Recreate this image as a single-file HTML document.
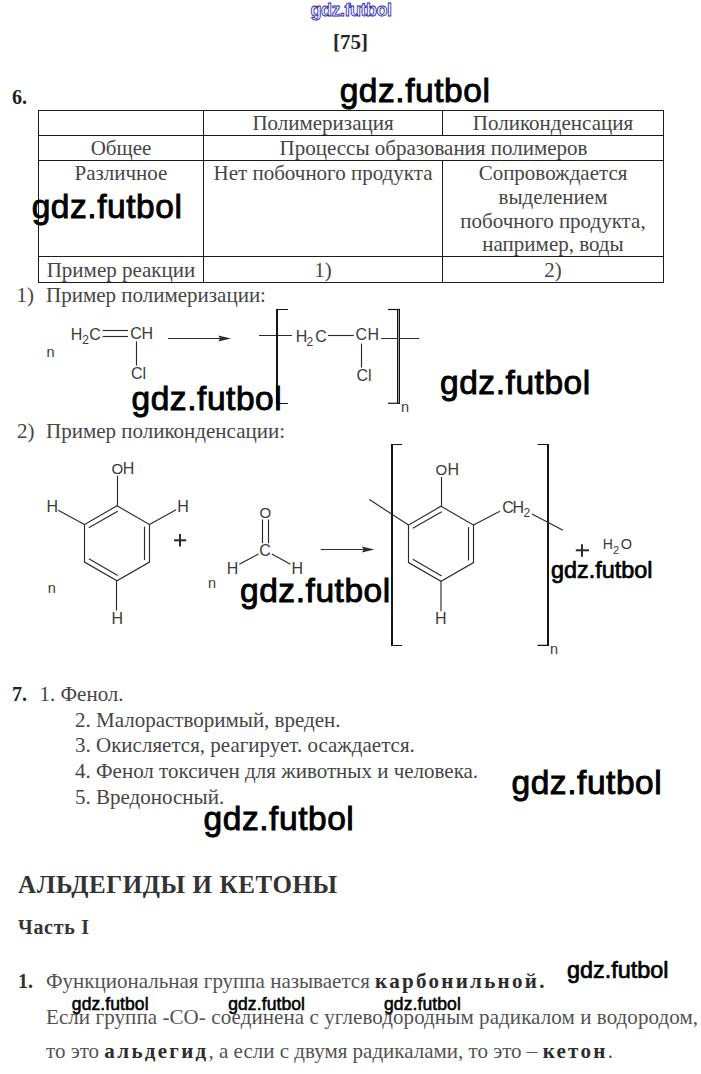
<!DOCTYPE html>
<html><head><meta charset="utf-8">
<style>
html,body{margin:0;padding:0;background:#fff;}
body{width:701px;height:1074px;position:relative;overflow:hidden;}
.t{position:absolute;white-space:nowrap;font-family:"Liberation Serif",serif;font-size:21px;line-height:21px;color:#454545;}
.c{text-align:center;}
.b{font-weight:bold;}
.wm{position:absolute;white-space:nowrap;font-family:"Liberation Sans",sans-serif;color:#000;line-height:1;}
.big{font-size:33.5px;letter-spacing:0.55px;-webkit-text-stroke:0.9px #000;}
.mid{font-size:23.4px;letter-spacing:0px;-webkit-text-stroke:0.7px #000;}
.sm{font-size:17.5px;letter-spacing:0.1px;-webkit-text-stroke:0.55px #000;background:#fff;}
.hl{position:absolute;height:1px;background:#1c1c1c;}
.vl{position:absolute;width:1px;background:#1c1c1c;}
svg{position:absolute;left:0;top:0;}
</style></head>
<body>
<!-- top link -->
<div style="position:absolute;left:310.5px;top:-0.5px;font:bold 18px/21px 'Liberation Sans',sans-serif;letter-spacing:-0.5px;color:#f4f4ff;-webkit-text-stroke:0.8px #1c1caa;white-space:nowrap;">gdz.futbol</div>
<div class="t b" style="left:333px;top:31.5px;color:#262626;">[75]</div>

<div class="t b" style="left:12px;top:87px;font-size:20px;color:#1e1e1e;">6.</div>

<!-- table -->
<div class="hl" style="left:38px;width:626px;top:110px;"></div>
<div class="hl" style="left:38px;width:626px;top:135px;"></div>
<div class="hl" style="left:38px;width:626px;top:160px;"></div>
<div class="hl" style="left:38px;width:626px;top:256px;"></div>
<div class="hl" style="left:38px;width:626px;top:282px;"></div>
<div class="vl" style="left:38px;top:110px;height:173px;"></div>
<div class="vl" style="left:203px;top:110px;height:173px;"></div>
<div class="vl" style="left:442px;top:110px;height:25px;"></div>
<div class="vl" style="left:442px;top:160px;height:123px;"></div>
<div class="vl" style="left:663px;top:110px;height:173px;"></div>

<div class="t c" style="left:203px;width:240px;top:113px;">Полимеризация</div>
<div class="t c" style="left:442px;width:222px;top:113px;">Поликонденсация</div>
<div class="t c" style="left:38px;width:166px;top:138px;">Общее</div>
<div class="t c" style="left:203px;width:461px;top:138px;">Процессы образования полимеров</div>
<div class="t c" style="left:38px;width:166px;top:163px;">Различное</div>
<div class="t c" style="left:203px;width:240px;top:163px;">Нет побочного продукта</div>
<div class="t c" style="left:442px;width:222px;top:163.4px;">Сопровождается</div>
<div class="t c" style="left:442px;width:222px;top:187px;">выделением</div>
<div class="t c" style="left:442px;width:222px;top:210.7px;">побочного продукта,</div>
<div class="t c" style="left:442px;width:222px;top:234.4px;">например, воды</div>
<div class="t c" style="left:38px;width:166px;top:260px;">Пример реакции</div>
<div class="t c" style="left:203px;width:240px;top:260px;">1)</div>
<div class="t c" style="left:442px;width:222px;top:260px;">2)</div>

<div class="t" style="left:16.5px;top:284.5px;">1)</div>
<div class="t" style="left:46px;top:284.5px;">Пример полимеризации:</div>
<div class="t" style="left:17px;top:420.5px;">2)</div>
<div class="t" style="left:46px;top:420.5px;">Пример поликонденсации:</div>

<!-- section 7 -->
<div class="t b" style="left:12px;top:683.5px;font-size:20px;color:#1e1e1e;">7.</div>
<div class="t" style="left:39.5px;top:683.5px;">1. Фенол.</div>
<div class="t" style="left:75px;top:709.7px;">2. Малорастворимый, вреден.</div>
<div class="t" style="left:75px;top:735.4px;">3. Окисляется, реагирует. осаждается.</div>
<div class="t" style="left:75px;top:761px;">4. Фенол токсичен для животных и человека.</div>
<div class="t" style="left:75px;top:786.7px;">5. Вредоносный.</div>

<!-- heading -->
<div class="t b" style="left:18px;top:872.3px;font-size:25px;line-height:25px;letter-spacing:0.6px;color:#333;">АЛЬДЕГИДЫ И КЕТОНЫ</div>
<div class="t b" style="left:18px;top:916.5px;font-size:20px;letter-spacing:0.7px;color:#333;">Часть I</div>

<div class="t b" style="left:18px;top:971px;font-size:20px;color:#333;">1.</div>
<div class="t" style="left:46px;top:970.8px;color:#525252;">Функциональная группа называется <b style="letter-spacing:2.3px;color:#2c2c2c;">карбонильной.</b></div>
<div class="t" style="left:46px;top:1007px;color:#525252;letter-spacing:0.08px;">Если группа -СО- соединена с углеводородным радикалом и водородом,</div>
<div class="t" style="left:46px;top:1040.7px;color:#525252;">то это <b style="letter-spacing:2.3px;color:#2c2c2c;">альдегид</b>, а если с двумя радикалами, то это – <b style="letter-spacing:2.3px;color:#2c2c2c;">кетон</b>.</div>

<!-- chemistry svg -->
<svg width="701" height="1074" viewBox="0 0 701 1074">
<g stroke="#2b2b2b" stroke-width="1.15" fill="none" stroke-linecap="butt">
  <!-- reaction 1 monomer -->
  <line x1="102.6" y1="330.5" x2="128" y2="330.5"/>
  <line x1="102.6" y1="336.5" x2="128" y2="336.5"/>
  <line x1="136.5" y1="341.3" x2="136.5" y2="365.7"/>
  <line x1="168" y1="338.5" x2="222" y2="338.5"/>
  <!-- polymer 1 -->
  <line x1="259" y1="335.5" x2="292" y2="335.5"/>
  <line x1="328" y1="335.5" x2="353.8" y2="335.5"/>
  <line x1="381.1" y1="338.5" x2="419.2" y2="338.5"/>
  <line x1="361.5" y1="343.6" x2="361.5" y2="367.6"/>
  <line x1="277" y1="308.9" x2="277" y2="404" stroke-width="2" stroke="#161616"/>
  <polyline points="288,309.5 277,309.5 277,403.5 288,403.5" stroke-width="1.2" stroke="#161616"/>
  <line x1="397.5" y1="309" x2="397.5" y2="403.6" stroke-width="1" stroke="#161616"/>
  <line x1="399.5" y1="308.8" x2="399.5" y2="403.8" stroke-width="1" stroke="#161616"/>
  <line x1="398.5" y1="309.5" x2="398.5" y2="403.2" stroke-width="1" stroke="#9a9a9a"/>
  <line x1="388" y1="309.5" x2="400" y2="309.5" stroke-width="1.2" stroke="#161616"/>
  <line x1="388" y1="403.3" x2="400" y2="403.3" stroke-width="1.2" stroke="#161616"/>
  <!-- phenol -->
  <polygon points="117.00,505.77 149.50,524.54 149.50,562.06 117.00,580.83 84.50,562.06 84.50,524.54"/>
  <line x1="88.81" y1="527.82" x2="117.69" y2="511.15"/>
  <line x1="144.50" y1="526.62" x2="144.50" y2="559.97"/>
  <line x1="117.69" y1="575.45" x2="88.81" y2="558.77"/>
  <line x1="117.5" y1="475.8" x2="117.5" y2="505.77"/>
  <line x1="84.50" y1="524.54" x2="58.2" y2="510.2"/>
  <line x1="149.50" y1="524.54" x2="176.1" y2="509.8"/>
  <line x1="116.5" y1="580.83" x2="116.5" y2="610.5"/>
  <!-- formaldehyde -->
  <line x1="262.5" y1="519.5" x2="262.5" y2="543.2"/>
  <line x1="268.5" y1="519.5" x2="268.5" y2="543.2"/>
  <line x1="258.6" y1="553.9" x2="239.3" y2="564.3"/>
  <line x1="271.9" y1="553.9" x2="290.4" y2="564.2"/>
  <line x1="320.7" y1="549.5" x2="368" y2="549.5"/>
  <!-- polymer 2 -->
  <line x1="392" y1="443.9" x2="392" y2="646" stroke-width="2" stroke="#161616"/>
  <polyline points="402.2,444.5 392,444.5 392,645.5 402.2,645.5" stroke-width="1.2" stroke="#161616"/>
  <line x1="548" y1="443.9" x2="548" y2="646" stroke-width="2" stroke="#161616"/>
  <polyline points="537.5,444.5 548,444.5 548,645.4 537.5,645.4" stroke-width="1.2" stroke="#161616"/>
  <polygon points="441.00,506.27 473.50,525.04 473.50,562.56 441.00,581.33 408.50,562.56 408.50,525.04"/>
  <line x1="412.81" y1="528.32" x2="441.69" y2="511.65"/>
  <line x1="468.50" y1="527.12" x2="468.50" y2="560.47"/>
  <line x1="441.69" y1="575.95" x2="412.81" y2="559.27"/>
  <line x1="441.5" y1="477" x2="441.5" y2="506.27"/>
  <line x1="408.50" y1="525.04" x2="369.4" y2="499.6"/>
  <line x1="473.50" y1="525.04" x2="499.9" y2="511.2"/>
  <line x1="532" y1="514" x2="563" y2="530.3"/>
  <line x1="441" y1="581.33" x2="441" y2="611.2"/>
</g>
<g fill="#2b2b2b" stroke="none">
  <polygon points="231,338.5 218.2,335.5 220.2,338.5 218.2,341.5"/>
  <polygon points="374.4,549.5 361.8,546.5 363.8,549.5 361.8,552.5"/>
</g>
<g stroke="#2b2b2b" stroke-width="2">
  <line x1="174" y1="540.3" x2="186.2" y2="540.3"/>
  <line x1="180" y1="534.1" x2="180" y2="546.4"/>
  <line x1="575.8" y1="550.3" x2="589" y2="550.3"/>
  <line x1="582" y1="544.3" x2="582" y2="556.8"/>
</g>
<g font-family="Liberation Sans, sans-serif" fill="#3a3a3a">
  <text x="46.6" y="356.7" font-size="14.5">n</text>
  <text x="70.8" y="339.8" font-size="16">H</text>
  <text x="82.3" y="343.5" font-size="12">2</text>
  <text x="89.3" y="339.8" font-size="16">C</text>
  <text x="130.2" y="338.7" font-size="16">C</text>
  <text x="141.5" y="338.7" font-size="16">H</text>
  <text x="131" y="378.8" font-size="16">Cl</text>
  <text x="295.8" y="341.7" font-size="16">H</text>
  <text x="306.5" y="345.8" font-size="12">2</text>
  <text x="315.3" y="341.7" font-size="16">C</text>
  <text x="355.6" y="340.4" font-size="16">C</text>
  <text x="367.4" y="340.4" font-size="16">H</text>
  <text x="356.5" y="380.5" font-size="16">Cl</text>
  <text x="401.1" y="411.8" font-size="14.5">n</text>
  <text x="111.5" y="473.6" font-size="15">O</text>
  <text x="122.7" y="473.6" font-size="16">H</text>
  <text x="46.6" y="511.6" font-size="16">H</text>
  <text x="177.3" y="511.6" font-size="16">H</text>
  <text x="111.4" y="623.6" font-size="16">H</text>
  <text x="47.8" y="592.7" font-size="14.5">n</text>
  <text x="259.5" y="517.7" font-size="15">O</text>
  <text x="259.3" y="555.8" font-size="16">C</text>
  <text x="226.7" y="573.8" font-size="16">H</text>
  <text x="291.6" y="573.8" font-size="16">H</text>
  <text x="208" y="587.8" font-size="14.5">n</text>
  <text x="435.5" y="474.8" font-size="15">O</text>
  <text x="447.4" y="474.8" font-size="16">H</text>
  <text x="502.2" y="512.7" font-size="16">C</text>
  <text x="512.5" y="512.7" font-size="16">H</text>
  <text x="523.5" y="517" font-size="12">2</text>
  <text x="435" y="623.5" font-size="16">H</text>
  <text x="550.1" y="654.2" font-size="14.5">n</text>
  <text x="602.65" y="549.4" font-size="14">H</text>
  <text x="612.95" y="554" font-size="11">2</text>
  <text x="620.8" y="549.4" font-size="14.5">O</text>
</g>
</svg>

<!-- watermarks -->
<div class="wm big" style="left:339.7px;top:74.0px;">gdz.futbol</div>
<div class="wm big" style="left:31.7px;top:189.7px;">gdz.futbol</div>
<div class="wm big" style="left:131.5px;top:382.1px;">gdz.futbol</div>
<div class="wm big" style="left:440.0px;top:365.9px;">gdz.futbol</div>
<div class="wm big" style="left:240.0px;top:573.9px;">gdz.futbol</div>
<div class="wm big" style="left:511.5px;top:766.0px;">gdz.futbol</div>
<div class="wm big" style="left:203.6px;top:802.0px;">gdz.futbol</div>
<div class="wm mid" style="left:551px;top:559px;">gdz.futbol</div>
<div class="wm mid" style="left:567px;top:959px;">gdz.futbol</div>
<div class="wm sm" style="left:71.8px;top:995.5px;">gdz.futbol</div>
<div class="wm sm" style="left:228.2px;top:995.5px;">gdz.futbol</div>
<div class="wm sm" style="left:384px;top:995.5px;">gdz.futbol</div>
</body></html>
